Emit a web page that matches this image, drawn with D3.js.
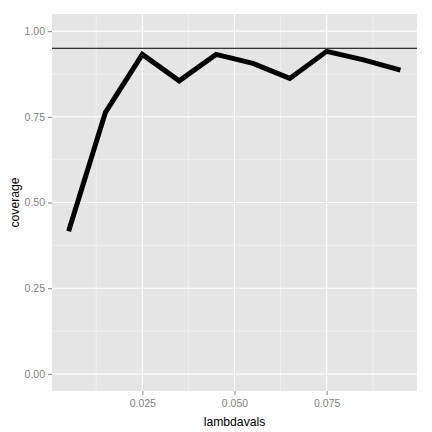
<!DOCTYPE html>
<html>
<head>
<meta charset="utf-8">
<script src="https://cdn.jsdelivr.net/npm/d3@7"></script>
<style>
  body { margin: 0; background: #fff; }
  text { font-family: "Liberation Sans", Arial, sans-serif; }
</style>
</head>
<body>
<div id="chart"></div>
<script>
var lambdavals = [0.005, 0.015, 0.025, 0.035, 0.045, 0.055, 0.065, 0.075, 0.085, 0.095];
var coverage = [0.416, 0.763, 0.932, 0.855, 0.932, 0.906, 0.862, 0.941, 0.916, 0.886];
var target = 0.95;
var xTicks = [0.025, 0.050, 0.075];
var xMinor = [0.0125, 0.0375, 0.0625, 0.0875];
var yTicks = [0, 0.25, 0.5, 0.75, 1];
var yMinor = [0.125, 0.375, 0.625, 0.875];

var W = 432, H = 432;
var margin = {top: 14, right: 15, bottom: 41, left: 52};
var width = W - margin.left - margin.right;
var height = H - margin.top - margin.bottom;

var svg = d3.select("#chart")
  .append("svg")
    .attr("width", W)
    .attr("height", H)
  .append("g")
    .attr("transform", "translate(" + margin.left + "," + margin.top + ")");

var xr = 0.095 - 0.005;
var x = d3.scaleLinear()
  .domain([0.005 - xr * 0.05, 0.095 + xr * 0.05])
  .range([0, width]);
var y = d3.scaleLinear()
  .domain([-0.05, 1.05])
  .range([height, 0]);

svg.append("rect")
  .attr("width", width)
  .attr("height", height)
  .attr("fill", "#e5e5e5");

// minor grid
svg.selectAll(".xminor").data(xMinor).enter().append("line")
  .attr("x1", function(d) { return x(d); }).attr("x2", function(d) { return x(d); })
  .attr("y1", 0).attr("y2", height)
  .attr("stroke", "#f2f2f2").attr("stroke-width", 0.8);
svg.selectAll(".yminor").data(yMinor).enter().append("line")
  .attr("y1", function(d) { return y(d); }).attr("y2", function(d) { return y(d); })
  .attr("x1", 0).attr("x2", width)
  .attr("stroke", "#f2f2f2").attr("stroke-width", 0.8);

// major grid
svg.selectAll(".xmajor").data(xTicks).enter().append("line")
  .attr("x1", function(d) { return x(d); }).attr("x2", function(d) { return x(d); })
  .attr("y1", 0).attr("y2", height)
  .attr("stroke", "#fff").attr("stroke-width", 1.1);
svg.selectAll(".ymajor").data(yTicks).enter().append("line")
  .attr("y1", function(d) { return y(d); }).attr("y2", function(d) { return y(d); })
  .attr("x1", 0).attr("x2", width)
  .attr("stroke", "#fff").attr("stroke-width", 1.1);

// axes
var xAxis = svg.append("g")
  .attr("transform", "translate(0," + height + ")")
  .call(d3.axisBottom(x).tickValues(xTicks).tickFormat(d3.format(".3f")).tickSize(4).tickPadding(5));
var yAxis = svg.append("g")
  .call(d3.axisLeft(y).tickValues(yTicks).tickFormat(d3.format(".2f")).tickSize(4).tickPadding(3));
[xAxis, yAxis].forEach(function(a) {
  a.select(".domain").remove();
  a.selectAll("line").attr("stroke", "#7f7f7f");
  a.selectAll("text").attr("fill", "#7f7f7f").style("font-size", "10.5px")
    .style("font-family", "'Liberation Sans', Arial, sans-serif");
});

// line
var line = d3.line()
  .x(function(d, i) { return x(lambdavals[i]); })
  .y(function(d) { return y(d); });
svg.append("path")
  .datum(coverage)
  .attr("d", line)
  .attr("fill", "none")
  .attr("stroke", "#000")
  .attr("stroke-width", 5);

svg.append("line")
  .attr("x1", 0).attr("x2", width)
  .attr("y1", y(target)).attr("y2", y(target))
  .attr("stroke", "#000").attr("stroke-width", 1);

// titles
svg.append("text")
  .attr("x", width / 2).attr("y", height + 35)
  .attr("text-anchor", "middle")
  .style("font-size", "12.2px")
  .text("lambdavals");
svg.append("text")
  .attr("transform", "translate(" + (-33) + "," + (height / 2) + ") rotate(-90)")
  .attr("text-anchor", "middle")
  .style("font-size", "12.2px")
  .text("coverage");
</script>
</body>
</html>
